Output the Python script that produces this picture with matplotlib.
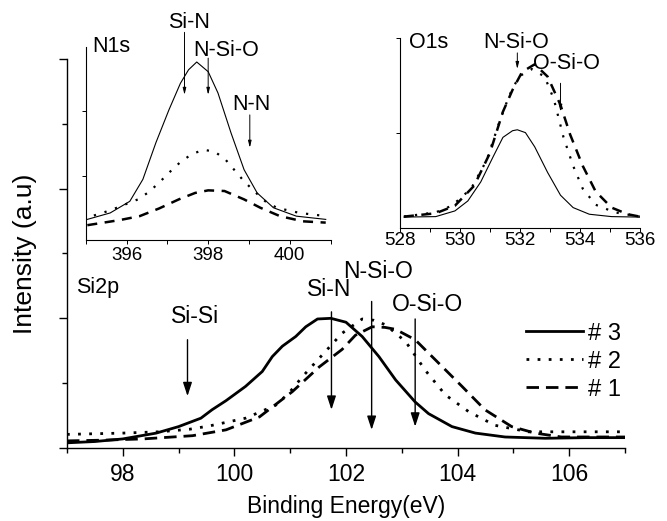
import matplotlib
matplotlib.use('Agg')
import matplotlib.pyplot as plt
from matplotlib.ticker import MultipleLocator, NullFormatter

plt.rcParams['font.family'] = ['Liberation Sans', 'DejaVu Sans']

# ---- Si2p (main panel) ----
si_x3 = [97.0, 97.5, 98.0, 98.6, 99.0, 99.4, 99.6, 99.85, 100.2, 100.5, 100.68, 100.86,
         101.1, 101.28, 101.49, 101.73, 102.0, 102.29, 102.59, 102.89, 103.24, 103.48,
         103.9, 104.32, 104.85, 105.57, 106.3, 107.0]
si_y3 = [0.08, 0.10, 0.14, 0.23, 0.33, 0.46, 0.59, 0.73, 0.95, 1.18, 1.41, 1.57,
         1.72, 1.87, 1.99, 2.00, 1.94, 1.72, 1.41, 1.05, 0.71, 0.53,
         0.33, 0.23, 0.17, 0.15, 0.16, 0.16]
si_x2 = [97.0, 97.5, 98.0, 98.66, 99.2, 99.55, 100.2, 100.74, 100.98, 101.22, 101.58,
         101.93, 102.29, 102.5, 102.71, 103.07, 103.42, 103.78, 104.2, 104.67, 105.27,
         106.0, 107.0]
si_y2 = [0.21, 0.22, 0.23, 0.25, 0.29, 0.34, 0.46, 0.66, 0.85, 1.10, 1.44,
         1.77, 1.99, 1.97, 1.90, 1.64, 1.20, 0.82, 0.56, 0.35, 0.25,
         0.25, 0.25]
si_x1 = [97.0, 97.6, 98.36, 99.25, 99.85, 100.45, 101.04, 101.52, 101.93, 102.17, 102.47,
         102.7, 102.89, 103.24, 103.66, 104.08, 104.49, 104.97, 105.39, 105.86, 106.4, 107.0]
si_y1 = [0.11, 0.12, 0.14, 0.19, 0.28, 0.48, 0.87, 1.25, 1.52, 1.74, 1.87,
         1.86, 1.83, 1.67, 1.31, 0.95, 0.59, 0.33, 0.23, 0.17, 0.17, 0.17]

# ---- N1s inset ----
n_x3 = [395.04, 395.6, 396.08, 396.4, 396.72, 397.04, 397.32, 397.52, 397.72, 398.0,
        398.24, 398.56, 398.88, 399.2, 399.6, 400.16, 400.88]
n_y3 = [0.32, 0.42, 0.60, 0.94, 1.51, 2.02, 2.43, 2.64, 2.76, 2.61,
        2.28, 1.66, 1.09, 0.73, 0.50, 0.37, 0.32]
n_x2 = [395.2, 395.6, 396.28, 396.56, 396.83, 397.1, 397.34, 397.6, 397.88, 398.16,
        398.42, 398.65, 398.88, 399.14, 399.4, 399.68, 399.96, 400.24, 400.76]
n_y2 = [0.38, 0.46, 0.63, 0.75, 0.91, 1.08, 1.22, 1.33, 1.40, 1.37,
        1.25, 1.08, 0.91, 0.75, 0.60, 0.50, 0.46, 0.42, 0.38]
n_x1 = [395.04, 395.84, 396.32, 396.8, 397.28, 397.68, 398.0, 398.4, 398.88, 399.28,
        399.76, 400.32, 400.88]
n_y1 = [0.23, 0.31, 0.37, 0.49, 0.63, 0.73, 0.77, 0.76, 0.63, 0.50,
        0.37, 0.29, 0.27]

# ---- O1s inset ----
o_x3 = [528.14, 529.2, 529.84, 530.27, 530.7, 531.12, 531.44, 531.76, 531.92, 532.19,
        532.5, 532.93, 533.36, 533.78, 534.32, 535.06, 536.0]
o_y3 = [0.11, 0.115, 0.175, 0.28, 0.48, 0.75, 0.95, 1.02, 1.03, 1.00,
        0.85, 0.58, 0.34, 0.21, 0.14, 0.115, 0.11]
o_x2 = [528.14, 529.2, 529.74, 530.38, 530.9, 531.33, 531.65, 531.97, 532.4, 532.83,
        533.14, 533.46, 533.78, 534.1, 534.53, 535.17, 536.0]
o_y2 = [0.115, 0.16, 0.23, 0.41, 0.71, 1.12, 1.39, 1.59, 1.67, 1.59,
        1.35, 0.95, 0.65, 0.41, 0.24, 0.16, 0.115]
o_x1 = [528.14, 529.2, 529.84, 530.48, 531.0, 531.44, 531.76, 532.08, 532.5, 532.93,
        533.36, 533.68, 534.1, 534.53, 535.06, 535.6, 536.0]
o_y1 = [0.115, 0.15, 0.23, 0.44, 0.78, 1.22, 1.45, 1.64, 1.72, 1.59,
        1.29, 0.98, 0.65, 0.38, 0.21, 0.14, 0.115]

legend_labels = ['# 3', '# 2', '# 1']

# peak markers: (label, x, arrow top, arrow bottom, label x, label baseline y)
si_marks = [('Si-Si', 99.16, 1.67, 0.80, 99.29, 1.93),
            ('Si-N', 101.74, 2.10, 0.59, 101.70, 2.34),
            ('N-Si-O', 102.46, 2.26, 0.28, 102.57, 2.62),
            ('O-Si-O', 103.24, 1.99, 0.33, 103.46, 2.12)]
n_marks = [('Si-N', 397.42, 3.22, 2.25, 397.52, 3.28),
           ('N-Si-O', 398.0, 2.82, 2.25, 398.43, 2.85),
           ('N-N', 399.02, 1.94, 1.43, 399.07, 2.02)]
o_marks = [('N-Si-O', 531.92, 1.84, 1.67, 531.89, 1.89),
           ('O-Si-O', 533.36, 1.52, 1.22, 533.57, 1.67)]

dot = (0, (1, 3))
dash = (0, (4.5, 2.5))

fig = plt.figure(figsize=(6.67, 5.21), dpi=100)

ax = fig.add_axes([0.1004, 0.1401, 0.8366, 0.7467])
ax.plot(si_x3, si_y3, color='k', lw=2.0, ls='-', label=legend_labels[0])
ax.plot(si_x2, si_y2, color='k', lw=2.0, ls=dot, label=legend_labels[1])
ax.plot(si_x1, si_y1, color='k', lw=2.0, ls=dash, label=legend_labels[2])
ax.set_xlim(97, 107)
ax.set_ylim(0, 6)
ax.xaxis.set_major_locator(MultipleLocator(2))
ax.xaxis.set_minor_locator(MultipleLocator(1))
ax.yaxis.set_major_locator(MultipleLocator(2))
ax.yaxis.set_minor_locator(MultipleLocator(1))
ax.yaxis.set_major_formatter(NullFormatter())
ax.tick_params(which='major', direction='out', length=6, width=1, labelsize=16.5, pad=5)
ax.tick_params(which='minor', direction='out', length=3.6, width=1)
for s in ['top', 'right']:
    ax.spines[s].set_visible(False)
for s in ['left', 'bottom']:
    ax.spines[s].set_linewidth(1.0)
ax.set_xlabel('Binding Energy(eV)', fontsize=16.5, va='baseline')
ax.xaxis.set_label_coords(0.5, -0.168)
ax.set_ylabel('Intensity (a.u)', fontsize=19)
ax.yaxis.set_label_coords(-0.054, 0.5)

ax.text(97.16, 2.39, 'Si2p', fontsize=15.5, va='baseline', ha='left')
for lab, x, y0, y1, tx, ty in si_marks:
    ax.annotate('', xy=(x, y1), xytext=(x, y0),
                arrowprops=dict(arrowstyle='-|>,head_length=0.55,head_width=0.18',
                                color='k', lw=1.0, mutation_scale=15,
                                shrinkA=0, shrinkB=0))
    ax.text(tx, ty, lab, fontsize=16.5, va='baseline', ha='center')

ax.legend(loc='upper left', bbox_to_anchor=(0.823, 0.322), frameon=False,
          fontsize=17, handlelength=2.4, handletextpad=0.2,
          labelspacing=0.25, borderpad=0, borderaxespad=0)

# N1s inset
axn = fig.add_axes([0.1285, 0.5393, 0.3672, 0.3714])
axn.patch.set_alpha(0)
axn.plot(n_x3, n_y3, color='k', lw=0.8, ls='-')
axn.plot(n_x2, n_y2, color='k', lw=1.6, ls=(0, (1, 4)))
axn.plot(n_x1, n_y1, color='k', lw=1.8, ls=(0, (4, 3)))
axn.set_xlim(395, 401)
axn.set_ylim(0, 3)
axn.xaxis.set_major_locator(MultipleLocator(2))
axn.xaxis.set_minor_locator(MultipleLocator(1))
axn.set_yticks([1, 2])
axn.yaxis.set_major_formatter(NullFormatter())
axn.tick_params(which='both', direction='out', length=3, width=0.7, labelsize=13.5, pad=2)
for s in ['top', 'right']:
    axn.spines[s].set_visible(False)
for s in ['left', 'bottom']:
    axn.spines[s].set_linewidth(0.8)
axn.text(395.16, 2.92, 'N1s', fontsize=15.5, va='baseline', ha='left')
for lab, x, y0, y1, tx, ty in n_marks:
    axn.annotate('', xy=(x, y1), xytext=(x, y0), annotation_clip=False,
                 arrowprops=dict(arrowstyle='-|>,head_length=0.5,head_width=0.12',
                                 color='k', lw=0.7, mutation_scale=8,
                                 shrinkA=0, shrinkB=0))
    axn.text(tx, ty, lab, fontsize=15.5, va='baseline', ha='center', clip_on=False)

# O1s inset
axo = fig.add_axes([0.5993, 0.5633, 0.3598, 0.3643])
axo.patch.set_alpha(0)
axo.plot(o_x3, o_y3, color='k', lw=0.8, ls='-')
axo.plot(o_x2, o_y2, color='k', lw=1.6, ls=(0, (1, 4)))
axo.plot(o_x1, o_y1, color='k', lw=1.8, ls=(0, (4, 3)))
axo.set_xlim(528, 536)
axo.set_ylim(0, 2)
axo.xaxis.set_major_locator(MultipleLocator(2))
axo.xaxis.set_minor_locator(MultipleLocator(1))
axo.set_yticks([1, 2])
axo.yaxis.set_major_formatter(NullFormatter())
axo.tick_params(which='both', direction='out', length=3, width=0.7, labelsize=13.5, pad=0.5)
for s in ['top', 'right']:
    axo.spines[s].set_visible(False)
for s in ['left', 'bottom']:
    axo.spines[s].set_linewidth(0.8)
axo.text(528.3, 1.89, 'O1s', fontsize=15.5, va='baseline', ha='left')
for lab, x, y0, y1, tx, ty in o_marks:
    axo.annotate('', xy=(x, y1), xytext=(x, y0), annotation_clip=False,
                 arrowprops=dict(arrowstyle='-|>,head_length=0.5,head_width=0.12',
                                 color='k', lw=0.7, mutation_scale=8,
                                 shrinkA=0, shrinkB=0))
    axo.text(tx, ty, lab, fontsize=15.5, va='baseline', ha='center', clip_on=False)

plt.savefig('out.png', dpi=100)
